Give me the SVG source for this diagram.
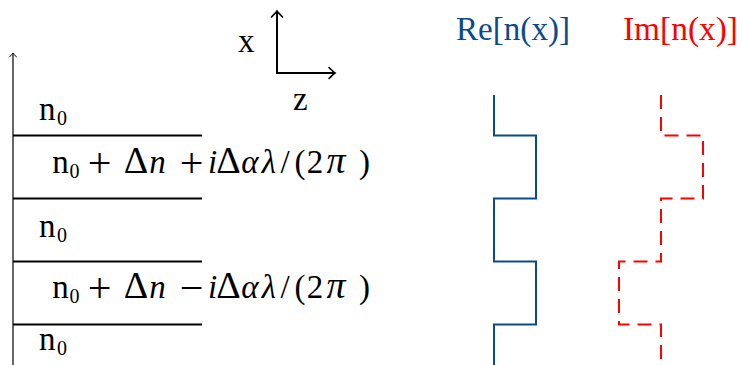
<svg xmlns="http://www.w3.org/2000/svg" width="742" height="365" viewBox="0 0 742 365">
<style>
.t{font-family:"Liberation Serif","DejaVu Serif",serif;font-size:33px;fill:#000}
.m{font-family:"Liberation Serif","DejaVu Serif",serif;font-size:33px;fill:#000;text-anchor:middle}
.op{font-size:42px}
.big{font-size:38px}
.sub{font-size:20px}
.it{font-style:italic}
.layer{stroke:#000;stroke-width:2;fill:none}
.ax{stroke:#000;fill:none}
.re{stroke:#0d4a8b;stroke-width:2;fill:none}
.im{stroke:#ff0000;stroke-width:2;fill:none;stroke-dasharray:14 8}
</style>
<defs>
<marker id="arr" markerWidth="12" markerHeight="14" viewBox="-8 -7 10 14" refX="0" refY="0" orient="auto" markerUnits="userSpaceOnUse">
<path d="M-6,-5.5 Q-1.5,-1 0,0 Q-1.5,1 -6,5.5" fill="none" stroke="#000" stroke-width="1.6" stroke-linecap="round"/>
</marker>
<marker id="arrs" markerWidth="8" markerHeight="10" viewBox="-6 -5 8 10" refX="0" refY="0" orient="auto" markerUnits="userSpaceOnUse">
<path d="M-4,-3.5 Q-1,-0.7 0,0 Q-1,0.7 -4,3.5" fill="none" stroke="#000" stroke-width="1" stroke-linecap="round"/>
</marker>
</defs>
<g id="connectors">
<line id="x-axis-left" class="ax" x1="13" y1="365" x2="13" y2="53" stroke-width="1.2" marker-end="url(#arrs)"/>
<line class="ax" x1="277" y1="73" x2="277" y2="11" stroke-width="2" marker-end="url(#arr)"/>
<line class="ax" x1="276" y1="73" x2="335" y2="73" stroke-width="2" marker-end="url(#arr)"/>
</g>
<g id="layers">
<line class="layer" x1="13" y1="135.5" x2="202" y2="135.5"/>
<line class="layer" x1="13" y1="198.5" x2="202" y2="198.5"/>
<line class="layer" x1="13" y1="261.5" x2="202" y2="261.5"/>
<line class="layer" x1="13" y1="324.5" x2="202" y2="324.5"/>
</g>
<g id="labels">
<text class="t" x="39" y="120">n<tspan class="sub" x="57" dy="5">0</tspan></text>
<text class="t" x="39" y="237">n<tspan class="sub" x="57" dy="5">0</tspan></text>
<text class="t" x="39" y="350">n<tspan class="sub" x="57" dy="5">0</tspan></text>
<text class="t" x="238" y="52">x</text>
<text class="t" x="293" y="110">z</text>
</g>
<g id="formula-plus">
<text class="m" x="60.5" y="173">n</text>
<text class="m sub" x="74.5" y="178">0</text>
<text class="m op" x="99.5" y="177">+</text>
<text class="m big" x="136" y="173">Δ</text>
<text class="m it" x="157.5" y="173">n</text>
<text class="m op" x="191.5" y="177">+</text>
<text class="m it" x="212.5" y="173">i</text>
<text class="m big" x="228.5" y="173">Δ</text>
<text class="m it" x="250" y="173">α</text>
<text class="m it" x="269" y="173">λ</text>
<text class="m" x="285" y="173">/</text>
<text class="m" x="300" y="173">(</text>
<text class="m" x="315" y="173">2</text>
<text class="m it big" x="336" y="173">π</text>
<text class="m" x="364.5" y="173">)</text>
</g>
<g id="formula-minus">
<text class="m" x="60.5" y="298">n</text>
<text class="m sub" x="74.5" y="303">0</text>
<text class="m op" x="99.5" y="302">+</text>
<text class="m big" x="136" y="298">Δ</text>
<text class="m it" x="157.5" y="298">n</text>
<text class="m op" x="191.5" y="302">−</text>
<text class="m it" x="212.5" y="298">i</text>
<text class="m big" x="228.5" y="298">Δ</text>
<text class="m it" x="250" y="298">α</text>
<text class="m it" x="269" y="298">λ</text>
<text class="m" x="285" y="298">/</text>
<text class="m" x="300" y="298">(</text>
<text class="m" x="315" y="298">2</text>
<text class="m it big" x="336" y="298">π</text>
<text class="m" x="364.5" y="298">)</text>
</g>
<g id="re-curve">
<text class="t" x="456" y="40" style="fill:#0d4a8b" textLength="114" lengthAdjust="spacingAndGlyphs">Re[n(x)]</text>
<path class="re" d="M494,95 V135.5 H536 V198.5 H494 V261.5 H536 V324.5 H494 V365"/>
</g>
<g id="im-curve">
<text class="t" x="623" y="40" style="fill:#ff0000" textLength="115" lengthAdjust="spacingAndGlyphs">Im[n(x)]</text>
<path class="im" d="M661,95 V135.5 H703 V198.5 H661 V261.5 H619 V324.5 H661 V365"/>
</g>
</svg>
